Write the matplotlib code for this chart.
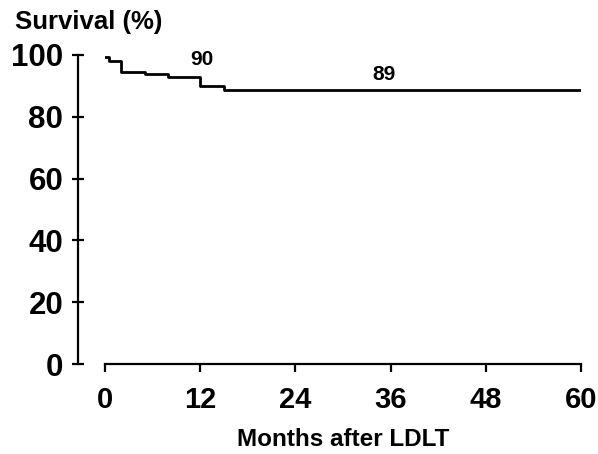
import matplotlib.pyplot as plt

# Kaplan-Meier style survival data
months = [0, 0.5, 2, 5, 8, 12, 15, 60]
survival = [99.3, 98.0, 94.6, 93.8, 92.8, 90.0, 88.8, 88.8]
x_ticks = [0, 12, 24, 36, 48, 60]
y_ticks = [0, 20, 40, 60, 80, 100]
annotations = [(12.2, 95.5, "90"), (35.2, 90.6, "89")]

plt.rcParams['font.family'] = ['Liberation Sans', 'DejaVu Sans']
plt.rcParams['font.weight'] = 'bold'

W, H = 598, 454
fig = plt.figure(figsize=(W / 100, H / 100), dpi=100)
ax = fig.add_axes([105 / W, (H - 364) / H, 476 / W, 309 / H])

ax.step(months, survival, where='post', color='black', lw=2)

for x, y, s in annotations:
    ax.text(x, y, s, ha='center', va='bottom', fontsize=15, fontweight='bold')

ax.set_xlim(0, 60)
ax.set_ylim(0, 100)
ax.set_xticks(x_ticks)
ax.set_yticks(y_ticks)

for side in ['top', 'right']:
    ax.spines[side].set_visible(False)
ax.spines['left'].set_position(('outward', 19.5))
ax.spines['left'].set_linewidth(1.6)
ax.spines['bottom'].set_linewidth(1.6)

ax.tick_params(axis='y', direction='inout', length=9, width=1.6, labelsize=22.5, pad=6)
ax.tick_params(axis='x', direction='out', length=6, width=1.6, labelsize=21, pad=10)
for lab in ax.get_xticklabels() + ax.get_yticklabels():
    lab.set_fontweight('bold')

fig.text(15 / W, 1 - 22 / H, "Survival (%)", fontsize=18.5, fontweight='bold', va='center', ha='left')
ax.set_xlabel("Months after LDLT", fontsize=17.5, fontweight='bold', labelpad=10)

fig.savefig("out.png", dpi=100)
